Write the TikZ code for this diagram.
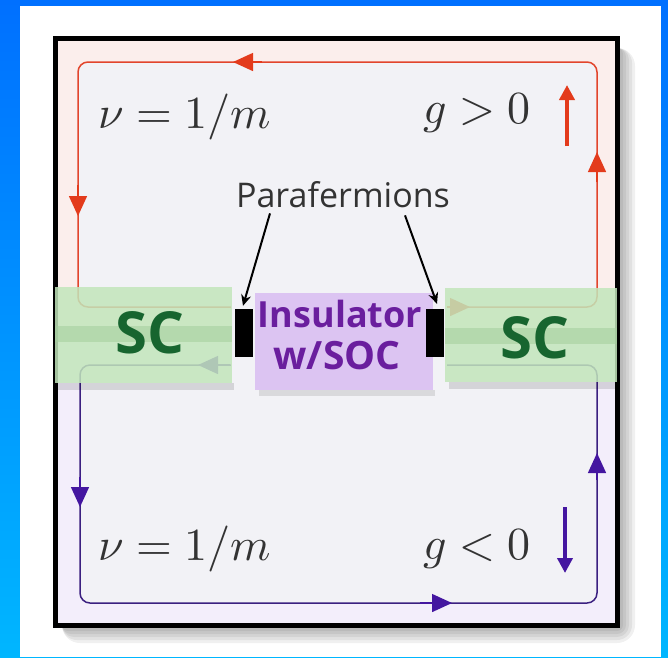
\documentclass[tikz,border=0pt]{standalone}
\usepackage{fontspec}
\usepackage{unicode-math}
\setmathfont{Latin Modern Math}
\newfontfamily\os{Open Sans}
\usetikzlibrary{arrows.meta,calc}
\definecolor{bluetop}{HTML}{0070FF}
\definecolor{bluebot}{HTML}{00B6FF}
\definecolor{inbg}{HTML}{F2F2F6}
\definecolor{pinkt}{HTML}{FBEEEC}
\definecolor{lavt}{HTML}{F3EEFB}
\definecolor{redl}{HTML}{E2452C}
\definecolor{redA}{HTML}{E33B1C}
\definecolor{purl}{HTML}{3B2080}
\definecolor{purA}{HTML}{4416A0}
\definecolor{scg}{HTML}{C2E6BB}
\definecolor{scstripe}{HTML}{A6D09F}
\definecolor{sctext}{HTML}{17652F}
\definecolor{insf}{HTML}{DCC4F2}
\definecolor{instext}{HTML}{6A1E9E}
\definecolor{txt}{HTML}{333333}
\begin{document}
\begin{tikzpicture}[x=1pt,y=-1pt,
  loophead/.style={-{Triangle[length=20pt,width=18pt]}, line width=1.5pt},
  bigarrow/.style={-{Triangle[length=15pt,width=15pt]}, line width=4pt},
  scband/.style={fill=scg, fill opacity=0.85, text opacity=1, inner sep=0pt},
  sclabel/.style={text=sctext, font=\os\bfseries\fontsize{58}{60}\selectfont, inner sep=0pt},
  pfbox/.style={fill=black, inner sep=0pt, minimum width=18pt, minimum height=48pt},
  mathlbl/.style={text=txt, inner sep=0pt, font=\fontsize{46}{50}\selectfont},
  pointer/.style={-{Stealth[length=11pt,width=10pt]}, line width=2pt, black}]
\useasboundingbox (0,0) rectangle (668,657);
\shade[top color=bluetop, bottom color=bluebot] (0,0) rectangle (668,657);
\fill[white] (20,6) rectangle (661,657);
% shadow of frame
\foreach \d in {3,6,9,12,15,18}
  \fill[black, opacity=0.06, rounded corners=\d pt] (62,48) rectangle (617+\d,625+\d);
% frame
\fill[pinkt] (55,38) rectangle (617,330);
\fill[lavt] (55,330) rectangle (617,625);
\draw[line width=5pt] (55,38) rectangle (617,625);
% loops
\draw[redl, line width=1.5pt, rounded corners=10pt, fill=inbg] (78,62) rectangle (597,307);
\draw[purl, line width=1.5pt, rounded corners=10pt, fill=inbg] (80,365) rectangle (597,603);
% loop arrowheads
\draw[loophead, redA] (262,62) -- (233,62);
\draw[loophead, redA] (78,185) -- (78,216);
\draw[loophead, redA] (597,182) -- (597,152);
\draw[loophead, redA] (440,307) -- (470,307);
\draw[loophead, purA] (230,365) -- (198,365);
\draw[loophead, purA] (80,477) -- (80,507);
\draw[loophead, purA] (597,480) -- (597,453);
\draw[loophead, purA] (420,603) -- (452,603);
\fill[inbg] (231,296) rectangle (258,390);
\fill[inbg] (430,296) rectangle (447,390);
% band shadows
\fill[black, opacity=0.12] (58,383) rectangle (234,390);
\fill[black, opacity=0.12] (449,382) rectangle (617,389);
\fill[black, opacity=0.10] (259,390) rectangle (435,396);
% superconductors
\node[scband, minimum width=177pt, minimum height=96pt] (scL) at (143.5,335) {};
\node[scband, minimum width=172pt, minimum height=94pt] (scR) at (531,335) {};
\fill[scstripe, opacity=0.6] (scL.west |- 0,326) rectangle (scL.east |- 0,342);
\fill[scstripe, opacity=0.6] (scR.west |- 0,328) rectangle (scR.east |- 0,344);
\node[sclabel] (scLt) at (150,333) {SC};
\node[sclabel] (scRt) at (535,338) {SC};
% insulator
\node[fill=insf, inner sep=0pt, minimum width=178pt, minimum height=97pt] (ins) at (344,341.5) {};
\node[text=instext, font=\os\bfseries\fontsize{36}{40}\selectfont, inner sep=0pt] (insA) at (340,314) {Insulator};
\node[text=instext, font=\os\bfseries\fontsize{39}{42}\selectfont, inner sep=0pt] (insB) at (337,356) {w/SOC};
% parafermions
\node[pfbox] (pfL) at (244,333) {};
\node[pfbox] (pfR) at (435,333) {};
\node[text=txt, font=\os\fontsize{34}{36}\selectfont, inner sep=0pt] (para) at (343,195) {Parafermions};
\coordinate (pL) at ([xshift=-73pt,yshift=-5pt]para.south);
\coordinate (pR) at ([xshift=62pt,yshift=-7pt]para.south);
\draw[pointer] (pL) -- ([xshift=-1pt,yshift=3pt]pfL.north);
\draw[pointer] (pR) -- ([xshift=2pt,yshift=5pt]pfR.north);
% labels
\node[mathlbl, anchor=west] (nuT) at (98,117) {$\nu = 1/m$};
\node[mathlbl, anchor=west] (gT) at (423,113) {$g > 0$};
\node[mathlbl, anchor=west] (nuB) at (98,549) {$\nu = 1/m$};
\node[mathlbl, anchor=west] (gB) at (423,549) {$g < 0$};
\draw[bigarrow, redA] (567,146) -- (567,85);
\draw[bigarrow, purA] (565,507) -- (565,573);
\end{tikzpicture}
\end{document}
